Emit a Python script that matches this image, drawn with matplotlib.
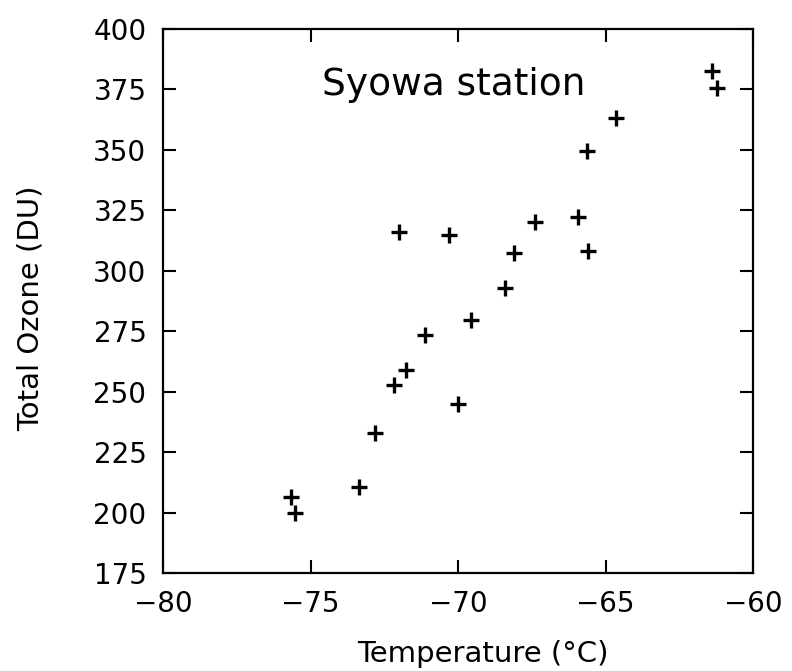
import matplotlib
matplotlib.use("Agg")
import matplotlib.pyplot as plt
import numpy as np

# Syowa station: 100 hPa temperature vs total ozone
temperature = [-75.66, -75.53, -73.35, -72.82, -72.16, -71.77, -71.12, -72.02,
               -70.02, -69.57, -70.3, -68.4, -68.1, -67.39, -65.94, -65.6,
               -65.62, -64.64, -61.39, -61.23]
ozone = [206.6, 199.7, 210.5, 232.8, 252.8, 259.0, 273.5, 316.2,
         244.9, 279.8, 314.6, 292.8, 307.2, 320.3, 322.4, 308.0,
         349.3, 363.1, 382.4, 375.5]

xticks = [-80, -75, -70, -65, -60]
yticks = [175, 200, 225, 250, 275, 300, 325, 350, 375, 400]

plt.rcParams['font.family'] = ['DejaVu Sans']

fig = plt.figure(figsize=(7.92, 6.71), dpi=100)
ax = fig.add_axes([0.206, 0.146, 0.745, 0.811])

ax.plot(temperature, ozone, linestyle='none', marker='+', color='black',
        markersize=11, markeredgewidth=2.4)

ax.set_xlim(-80, -60)
ax.set_ylim(175, 400)
ax.set_xticks(xticks)
ax.set_yticks(yticks)
ax.set_xticklabels([str(t).replace('-', '\u2212') for t in xticks])
ax.tick_params(direction='in', length=9.5, width=1.5, labelsize=20,
               top=True, right=True, colors='black')
ax.tick_params(axis='y', pad=12)
ax.tick_params(axis='x', pad=12)
for s in ax.spines.values():
    s.set_linewidth(1.6)

ax.set_xlabel('Temperature (°C)', fontsize=21)
ax.set_ylabel('Total Ozone (DU)', fontsize=21)
ax.xaxis.label.set_va('center')
ax.yaxis.label.set_va('center')
ax.xaxis.set_label_coords(0.542, -0.148)
ax.yaxis.set_label_coords(-0.225, 0.487)

ax.text(0.493, 0.897, 'Syowa station', transform=ax.transAxes, fontsize=27,
        ha='center', va='center')

fig.savefig('out.png', dpi=100, facecolor='white')
